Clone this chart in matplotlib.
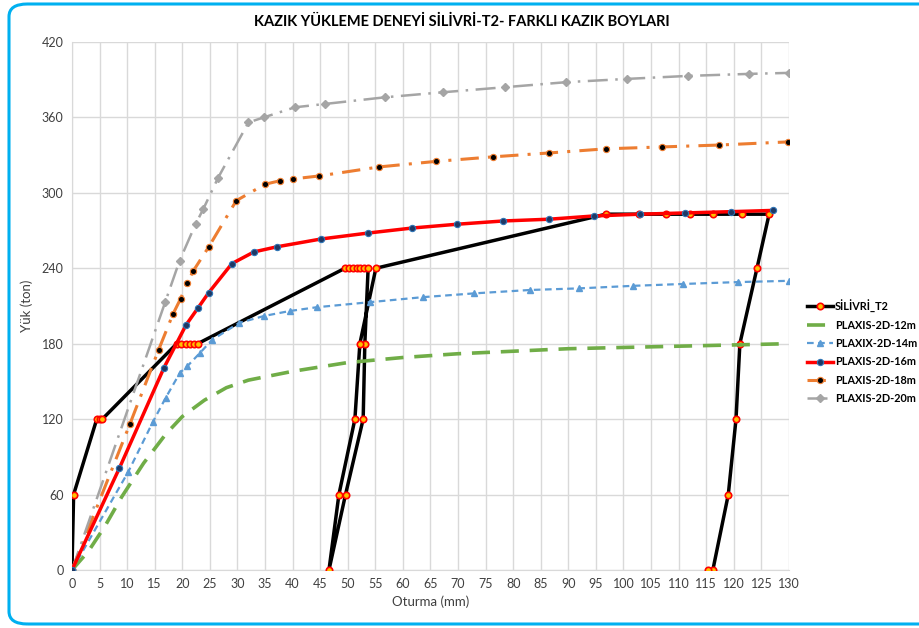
import matplotlib
matplotlib.use("Agg")
import matplotlib.pyplot as plt
from matplotlib.patches import FancyBboxPatch

# ---- data ----
silivri_x = [0, 0.3, 4.5, 5.0, 5.5, 19.0, 19.8, 20.6, 21.4, 22.2, 22.8,
             49.5, 50.2, 50.9, 51.6, 52.3, 53.0, 53.7,
             53.1, 52.8, 49.6, 46.6,
             48.4, 51.3, 52.2, 55.1,
             96.8, 102.9, 107.7, 112.0, 116.2, 121.5, 126.4,
             124.2, 121.1, 120.4, 119.0, 116.2, 115.3]
silivri_y = [0, 60, 120, 120, 120, 180, 180, 180, 180, 180, 180,
             240, 240, 240, 240, 240, 240, 240,
             180, 120, 60, 0,
             60, 120, 180, 240,
             283, 283, 283, 283, 283, 283, 283,
             240, 180, 120, 60, 0, 0]

p12_x = [0, 3, 6, 9, 13, 17, 20, 24, 28, 32, 40, 50, 60, 70, 80, 90, 100, 110, 120, 130]
p12_y = [0, 15, 35, 58, 85, 108, 122, 135, 145, 151, 158, 165, 169, 172, 174, 176, 177, 178, 179, 180]

p14_x = [0, 10.2, 14.7, 17.0, 19.6, 20.9, 23.2, 25.4, 30.3, 34.8, 39.5, 44.4, 54.0, 63.6, 72.9, 83.0, 92.0, 101.7, 110.8, 120.8, 130.0]
p14_y = [0, 78, 118, 137, 157, 162, 172.6, 183, 196.5, 202, 206, 209, 213, 217, 220, 222.7, 224, 226, 227.5, 229, 230]

p16_x = [0, 8.6, 16.7, 20.7, 22.9, 24.8, 29.0, 33.0, 37.1, 45.2, 53.7, 61.7, 69.8, 78.2, 86.5, 94.7, 103.0, 111.2, 119.5, 127.1]
p16_y = [0, 81, 161, 195, 208.7, 220.6, 243.7, 253, 257, 263.3, 268, 272, 275, 277.6, 279, 281.6, 283, 284, 285, 286]

p18_x = [0, 10.5, 15.7, 18.3, 19.7, 20.9, 22.0, 24.8, 29.8, 35.0, 37.8, 40.0, 44.8, 55.7, 66.0, 76.3, 86.5, 96.8, 107.0, 117.3, 129.8]
p18_y = [0, 116, 175, 203.4, 215.8, 228.3, 237.9, 257, 293.8, 306.8, 309.7, 311, 313.4, 320.6, 325, 328.6, 331.7, 335, 336.5, 338, 340.5]

p20_x = [0, 16.9, 19.5, 22.4, 23.8, 26.5, 32.0, 34.8, 40.4, 45.9, 56.8, 67.3, 78.5, 89.6, 100.6, 111.7, 122.8, 130.0]
p20_y = [0, 213, 245.8, 275, 287, 312, 356, 360, 368, 370.7, 376, 380, 384, 388, 390.6, 393, 394.6, 395.4]

x_ticks = list(range(0, 131, 5))
y_ticks = list(range(0, 421, 60))

plt.rcParams['font.family'] = ['Lato', 'DejaVu Sans']

fig = plt.figure(figsize=(9.19, 6.28), dpi=100)
ax = fig.add_axes([0.0783, 0.0924, 0.7802, 0.8408])

border = FancyBboxPatch((9/919, 4/628), 1.05, 620/628,
                        boxstyle="round,pad=0,rounding_size=0.02",
                        transform=fig.transFigure, facecolor='none',
                        edgecolor='#00B0F0', linewidth=2.2, clip_on=False)
fig.patches.append(border)

ax.plot(silivri_x, silivri_y, color='black', lw=2.5, marker='o', ms=4.6,
        mfc='#FFC000', mec='#FF0000', mew=1.2, label='SİLİVRİ_T2', zorder=3)
ax.plot(p12_x, p12_y, color='#70AD47', lw=2.6, ls=(0, (5, 3)),
        label='PLAXIS-2D-12m', zorder=4)
ax.plot(p14_x, p14_y, color='#5B9BD5', lw=1.6, ls=(0, (3, 2)), marker='^', ms=5,
        mfc='#5B9BD5', mec='#5B9BD5', label='PLAXIX-2D-14m', zorder=4)
ax.plot(p16_x, p16_y, color='#FF0000', lw=2.5, marker='o', ms=4.5,
        mfc='#1F3864', mec='#2E75B6', mew=0.8, label='PLAXIS-2D-16m', zorder=5)
ax.plot(p18_x, p18_y, color='#ED7D31', lw=2.2, ls=(0, (6, 3, 1, 3)), marker='o', ms=4.5,
        mfc='black', mec='#ED7D31', mew=0.8, label='PLAXIS-2D-18m', zorder=4)
ax.plot(p20_x, p20_y, color='#A5A5A5', lw=1.8, ls=(0, (8, 3, 1, 3)), marker='D', ms=4,
        mfc='#A5A5A5', mec='#A5A5A5', label='PLAXIS-2D-20m', zorder=4)

ax.set_xlim(0, 130)
ax.set_ylim(0, 420)
ax.set_xticks(x_ticks)
ax.set_yticks(y_ticks)
ax.grid(True, color='#D9D9D9', lw=1)
ax.set_axisbelow(True)
for s in ['top', 'right']:
    ax.spines[s].set_visible(False)
for s in ['left', 'bottom']:
    ax.spines[s].set_color('#D9D9D9')
ax.tick_params(length=0, labelsize=9, colors='#404040', pad=6)
ax.set_xlabel('Oturma (mm)', fontsize=9.5, color='#404040', labelpad=4)
ax.set_ylabel('Yük (ton)', fontsize=9.5, color='#404040', labelpad=6)
fig.text(0.502, 0.965, 'KAZIK YÜKLEME DENEYİ SİLİVRİ-T2- FARKLI KAZIK BOYLARI',
         ha='center', va='center', fontsize=10.5, fontweight='bold', color='black')

leg = ax.legend(loc='center left', bbox_to_anchor=(0.872, 0.44),
                bbox_transform=fig.transFigure, frameon=False,
                prop={'size': 7.8, 'weight': 'bold'}, handlelength=2.4,
                handletextpad=0.2, labelspacing=0.68, borderpad=0)

fig.savefig('out.png', dpi=100)
